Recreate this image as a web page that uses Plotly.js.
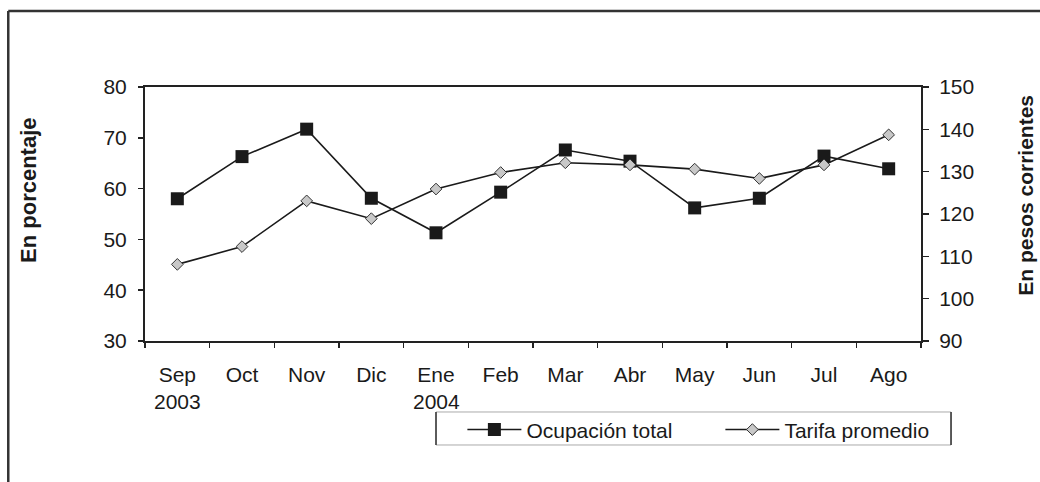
<!DOCTYPE html>
<html>
<head>
<meta charset="utf-8">
<script src="https://cdn.plot.ly/plotly-3.0.1.min.js"></script>
<style>html,body{margin:0;padding:0;background:#fff;}#chart{width:1040px;height:482px;}</style>
</head>
<body>
<div id="chart"></div>
<script>
const months = ["Sep","Oct","Nov","Dic","Ene","Feb","Mar","Abr","May","Jun","Jul","Ago"];
const yearLabels = [{month:"Sep", text:"2003"}, {month:"Ene", text:"2004"}];
const ocupacion = [58.0, 66.3, 71.7, 58.1, 51.3, 59.3, 67.6, 65.4, 56.2, 58.1, 66.4, 63.9];
const tarifa = [108.1, 112.3, 123.1, 118.9, 125.9, 129.8, 132.1, 131.6, 130.6, 128.4, 131.6, 138.7];
const boundaries = [-0.5,0.5,1.5,2.5,3.5,4.5,5.5,6.5,7.5,8.5,9.5,10.5,11.5];

const FONT = "'Liberation Sans', Arial, sans-serif";
const INK = "#1a1a1a";

const traces = [
  {
    x: months, y: ocupacion, name: "Ocupación total", type: "scatter", mode: "lines+markers",
    line: {color: INK, width: 1.6},
    marker: {symbol: "square", size: 13, color: INK},
    xaxis: "x", yaxis: "y"
  },
  {
    x: months, y: tarifa, name: "Tarifa promedio", type: "scatter", mode: "lines+markers",
    line: {color: INK, width: 1.6},
    marker: {symbol: "diamond", size: 9, color: "#c8c8c8", line: {color: "#333", width: 1}},
    xaxis: "x", yaxis: "y2"
  }
];

const annotations = yearLabels.map(o => ({
  x: o.month, xref: "x", y: -0.24, yref: "paper", text: o.text, showarrow: false,
  xanchor: "center", yanchor: "middle", font: {family: FONT, size: 21, color: INK}
}));
annotations.push({
  x: -0.151, xref: "paper", y: 0.594, yref: "paper", text: "<b>En porcentaje</b>", textangle: -90,
  showarrow: false, xanchor: "center", yanchor: "middle", font: {family: FONT, size: 22, color: INK}
});
annotations.push({
  x: 1.135, xref: "paper", y: 0.575, yref: "paper", text: "<b>En pesos corrientes</b>", textangle: -90,
  showarrow: false, xanchor: "center", yanchor: "middle", font: {family: FONT, size: 21, color: INK}
});

const shapes = [
  {type: "line", xref: "paper", yref: "paper", x0: -0.1762, x1: 1.2, y0: 1.2992, y1: 1.2992, line: {color: "#333", width: 2.5}},
  {type: "line", xref: "paper", yref: "paper", x0: -0.1762, x1: -0.1762, y0: 1.2992, y1: -0.7, line: {color: "#333", width: 2.5}},
  {type: "rect", xref: "paper", yref: "paper", x0: 0.375, x1: 1.0387, y0: -0.4094, y1: -0.2795, line: {color: "#aaa", width: 1}},
  {type: "line", xref: "paper", yref: "paper", x0: 0.375, x1: 0.375, y0: -0.4094, y1: -0.2795, line: {color: "#333", width: 1.5}},
  {type: "line", xref: "paper", yref: "paper", x0: 1.0387, x1: 1.0387, y0: -0.4094, y1: -0.2795, line: {color: "#333", width: 1.5}}
];

const layout = {
  width: 1040, height: 482,
  margin: {l: 145, r: 119, t: 87, b: 141},
  paper_bgcolor: "#fff", plot_bgcolor: "#fff",
  font: {family: FONT, size: 21, color: INK},
  showlegend: true,
  legend: {
    orientation: "h", x: 0.409, xanchor: "left", y: -0.35, yanchor: "middle",
    font: {family: FONT, size: 21, color: INK}, bgcolor: "rgba(0,0,0,0)",
    itemwidth: 54, entrywidth: 189, traceorder: "normal"
  },
  xaxis: {
    type: "category", categoryarray: months, categoryorder: "array",
    range: [-0.5, 11.5],
    showline: true, linecolor: "#222", linewidth: 2, mirror: true,
    ticks: "outside", tickson: "boundaries", ticklen: 5, tickwidth: 1.5, tickcolor: "#222",
    showgrid: false, zeroline: false, ticklabelstandoff: 14,
    tickfont: {family: FONT, size: 21, color: INK}
  },
  xaxis2: {
    overlaying: "x", anchor: "y", side: "bottom", range: [-0.5, 11.5],
    tickmode: "array", tickvals: boundaries, showticklabels: false,
    ticks: "inside", ticklen: 6, tickwidth: 1.5, tickcolor: "#222",
    showline: false, showgrid: false, zeroline: false
  },
  yaxis: {
    range: [30, 80], dtick: 10, tick0: 30,
    showline: true, linecolor: "#222", linewidth: 2,
    ticks: "outside", ticklen: 5, tickwidth: 1.5, tickcolor: "#222",
    showgrid: false, zeroline: false, ticklabelstandoff: 7,
    tickfont: {family: FONT, size: 21, color: INK}
  },
  yaxis2: {
    overlaying: "y", side: "right", anchor: "x", range: [90, 150], dtick: 10, tick0: 90,
    showline: true, linecolor: "#222", linewidth: 2,
    ticks: "outside", ticklen: 6, tickwidth: 1.5, tickcolor: "#222",
    showgrid: false, zeroline: false, ticklabelstandoff: 6,
    tickfont: {family: FONT, size: 21, color: INK}
  },
  annotations: annotations,
  shapes: shapes
};

Plotly.newPlot("chart", traces, layout, {staticPlot: true, displayModeBar: false});
</script>
</body>
</html>
